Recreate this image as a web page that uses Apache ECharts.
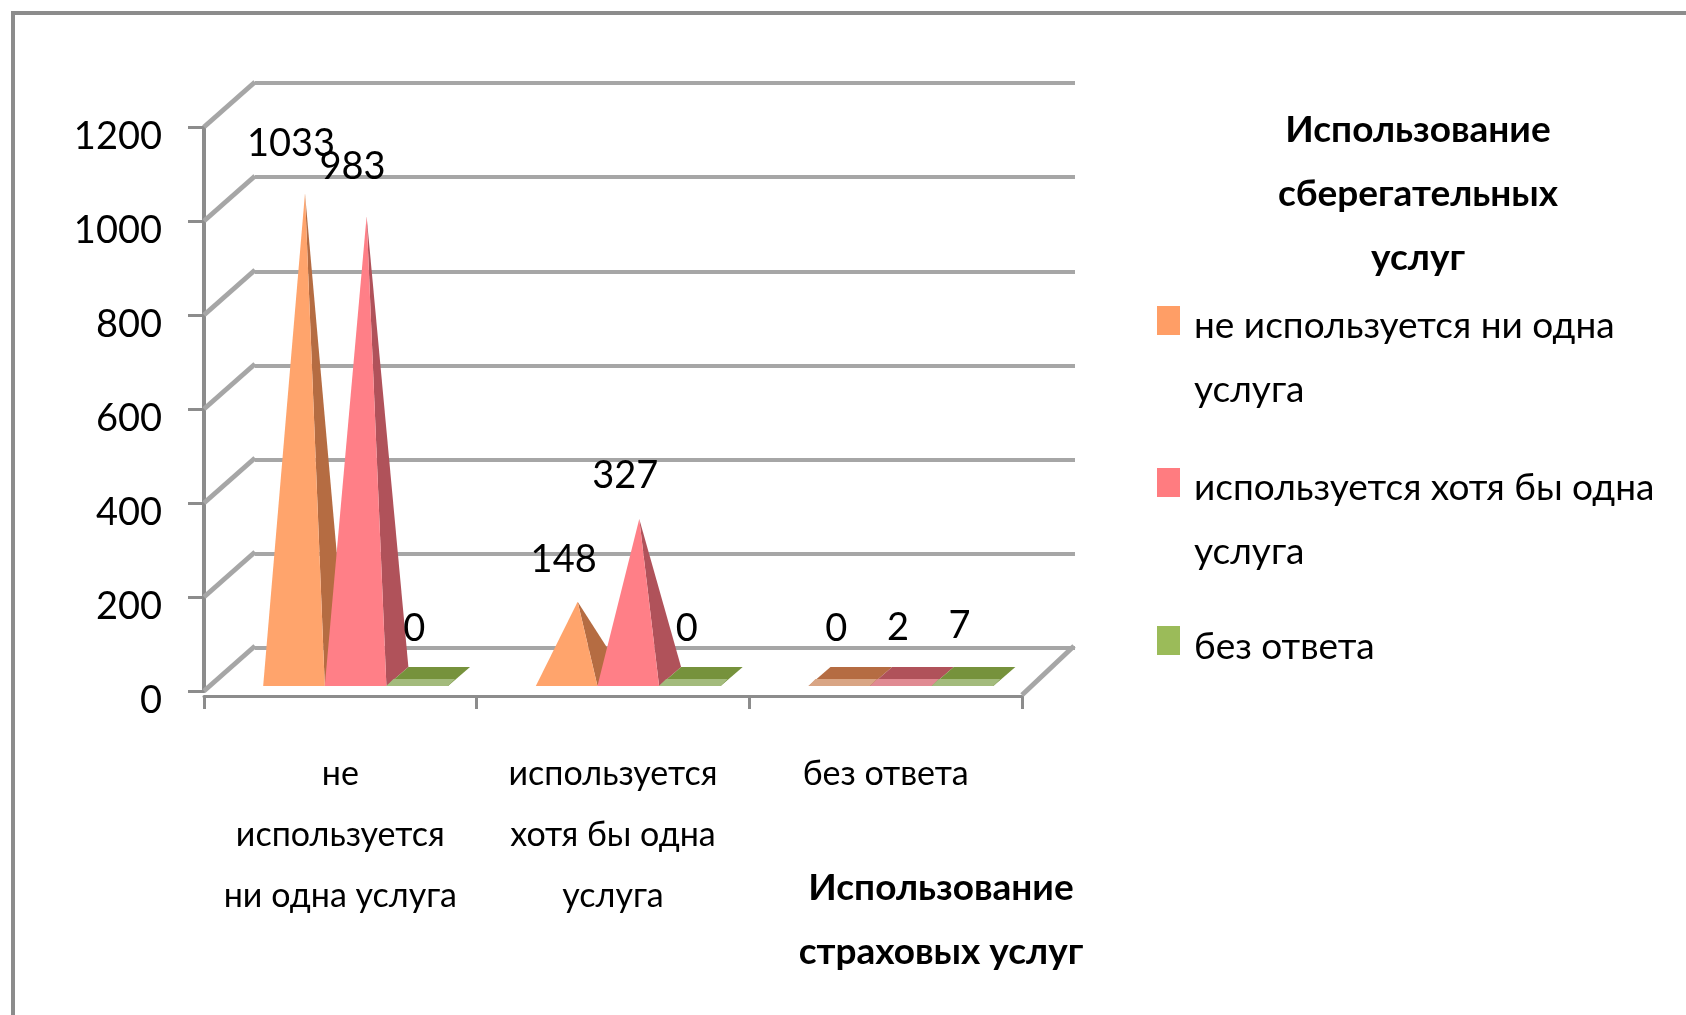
<!DOCTYPE html>
<html>
<head>
<meta charset="utf-8" />
<title>Использование услуг</title>
<script src="https://cdn.jsdelivr.net/npm/echarts@6/dist/echarts.min.js"></script>
<style>
  html, body { margin: 0; padding: 0; background: #fff; }
  #main { width: 1686px; height: 1015px; }
</style>
</head>
<body>
<div id="main"></div>
<script>
var categories = ['не\nиспользуется\nни одна услуга', 'используется\nхотя бы одна\nуслуга', 'без ответа'];
var seriesNames = ['не используется ни одна\nуслуга', 'используется хотя бы одна\nуслуга', 'без ответа'];
var noneValues = [1033, 148, 0];
var oneValues = [983, 327, 2];
var noAnswerValues = [0, 0, 7];
var yTicks = [0, 200, 400, 600, 800, 1000, 1200];

var font = 'Lato, Roboto, sans-serif';
var black = '#000';
var axisGrey = '#8c8c8c';
var wallGrey = '#a6a6a6';

// сдвиг задней стенки относительно передней плоскости
var depthX = 51, depthY = 45;

// пирамида: передняя грань + тёмная боковая грань
function renderPyramid(seriesIdx, front, side, strip) {
	return function (params, api) {
		var cat = api.value(0), val = api.value(1);
		var pos = api.coord([cat, val]);
		var zero = api.coord([cat, 0]);
		var band = api.size([1, 0])[0];
		var w = band * 0.226;
		var xL = pos[0] + band * 0.056 + (seriesIdx - 1.5) * w;
		var xR = xL + w;
		var yFront = zero[1] - 5, yBack = zero[1] - 24;
		var apexX = (xL + xR) / 2 + 11;
		var apexY = zero[1] - 21 - (zero[1] - pos[1]) * 0.982;
		var children = [];
		if (val < 20) {
			children.push({type: 'polygon', shape: {points: [[xL, yFront], [xR, yFront], [xR + 22, yBack], [xL + 22, yBack]]}, style: {fill: side}});
			children.push({type: 'polygon', shape: {points: [[xL, yFront], [xR, yFront], [xR + 7, yFront - 7], [xL + 7, yFront - 7]]}, style: {fill: strip}});
		} else {
			children.push({type: 'polygon', shape: {points: [[xR, yFront], [xR + 22, yBack], [apexX, apexY]]}, style: {fill: side}});
			children.push({type: 'polygon', shape: {points: [[xL, yFront], [xR, yFront], [apexX, apexY]]}, style: {fill: front}});
		}
		children.push({type: 'text', style: {
			text: String(val), x: apexX - 14, y: pos[1] - 62,
			align: 'center', verticalAlign: 'middle',
			font: '38px ' + font, fill: black
		}});
		return {type: 'group', children: children};
	};
}

// косые линии боковой стенки и пола
function renderDepth(params, api) {
	var p = api.coord([0, api.value(0)]);
	var band = api.size([1, 0])[0];
	var x0 = p[0] - band / 2;
	var children = [{type: 'line', shape: {x1: x0, y1: p[1], x2: x0 + depthX, y2: p[1] - depthY}, style: {stroke: wallGrey, lineWidth: 5}}];
	if (api.value(0) === 0) {
		children.push({type: 'line', shape: {x1: x0 + band * 3, y1: p[1] + 4, x2: x0 + band * 3 + depthX + 1, y2: p[1] - depthY}, style: {stroke: wallGrey, lineWidth: 5}});
	}
	return {type: 'group', children: children};
}

// верхняя пустая строка сдвигает текст легенды относительно маркера
function legendAt(name, top, spacer) {
	return {
		data: [name], left: 1152, top: top, orient: 'vertical',
		icon: 'rect', itemWidth: 23, itemHeight: 29, itemGap: 0,
		selectedMode: false,
		formatter: function (n) {
			return '{s| }\n' + n.split('\n').map(function (line) { return '{a|' + line + '}'; }).join('\n');
		},
		textStyle: {
			padding: [0, 0, 0, 9],
			rich: {
				s: {fontSize: 1, lineHeight: spacer},
				a: {fontFamily: font, fontSize: 37, lineHeight: 64, color: black}
			}
		}
	};
}

var chart = echarts.init(document.getElementById('main'));
chart.setOption({
	backgroundColor: '#fff',
	animation: false,
	title: [
		{text: 'Использование\nсберегательных\nуслуг', left: 1413, top: 93, textAlign: 'center',
			textStyle: {fontFamily: font, fontSize: 37, fontWeight: 'bold', lineHeight: 64, color: black}},
		{text: 'Использование\nстраховых услуг', left: 936, top: 851, textAlign: 'center',
			textStyle: {fontFamily: font, fontSize: 37, fontWeight: 'bold', lineHeight: 64, color: black}}
	],
	legend: [
		legendAt(seriesNames[0], 251, 75),
		legendAt(seriesNames[1], 413, 75),
		legendAt(seriesNames[2], 603, 13)
	],
	grid: [
		{left: 204, top: 127, width: 818, height: 564},
		{left: 255, top: 83, width: 820, height: 565}
	],
	xAxis: [
		{
			type: 'category', gridIndex: 0, data: categories, offset: 5,
			axisLine: {onZero: false, lineStyle: {color: axisGrey, width: 3}},
			axisTick: {show: true, length: 13, lineStyle: {color: axisGrey, width: 3}},
			axisLabel: {interval: 0, margin: 48, fontFamily: font, fontSize: 34, lineHeight: 61, color: black}
		},
		{type: 'category', gridIndex: 1, data: categories, show: false}
	],
	yAxis: [
		{
			type: 'value', gridIndex: 0, min: 0, max: 1200, interval: 200,
			axisLine: {show: true, lineStyle: {color: axisGrey, width: 4}},
			axisTick: {show: true, length: 16, lineStyle: {color: axisGrey, width: 3}},
			splitLine: {show: false},
			axisLabel: {margin: 42, fontFamily: font, fontSize: 38, color: black, verticalAlign: 'top', lineHeight: 20,
				formatter: function (v) { return String(v); }}
		},
		{
			type: 'value', gridIndex: 1, min: 0, max: 1200, interval: 200,
			axisLine: {show: false}, axisTick: {show: false}, axisLabel: {show: false},
			splitLine: {show: true, lineStyle: {color: wallGrey, width: 4}}
		}
	],
	series: [
		{name: 'wall', type: 'custom', xAxisIndex: 0, yAxisIndex: 0, renderItem: renderDepth, encode: {x: -1, y: 0},
			data: yTicks.map(function (t) { return [t]; }), silent: true, z: 1},
		{name: seriesNames[0], type: 'custom', renderItem: renderPyramid(0, '#ffa46c', '#b56c42', '#d9a584'), itemStyle: {color: '#ff9e66'},
			encode: {x: 0, y: 1}, data: noneValues.map(function (v, i) { return [i, v]; }), z: 3},
		{name: seriesNames[1], type: 'custom', renderItem: renderPyramid(1, '#ff7f87', '#b0525a', '#e08a92'), itemStyle: {color: '#ff7c80'},
			encode: {x: 0, y: 1}, data: oneValues.map(function (v, i) { return [i, v]; }), z: 3},
		{name: seriesNames[2], type: 'custom', renderItem: renderPyramid(2, '#9bbb59', '#76923c', '#a3bb7c'), itemStyle: {color: '#9bbb59'},
			encode: {x: 0, y: 1}, data: noAnswerValues.map(function (v, i) { return [i, v]; }), z: 3}
	],
	graphic: [{
		type: 'polyline', silent: true, z: 10,
		shape: {points: [[13, 1015], [13, 13], [1686, 13]]},
		style: {stroke: axisGrey, lineWidth: 4, fill: null}
	}]
});
</script>
</body>
</html>
